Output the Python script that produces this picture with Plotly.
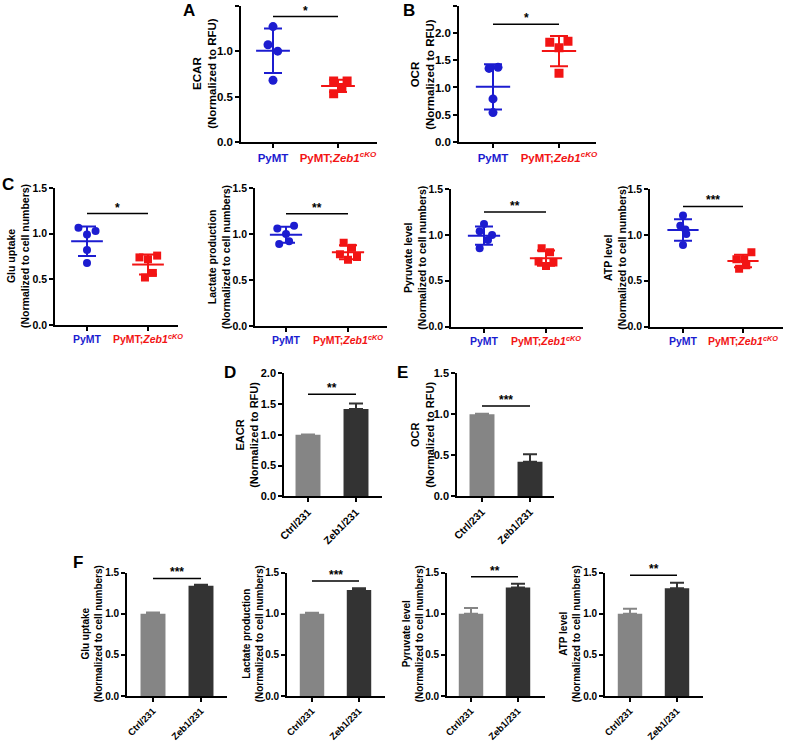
import numpy as np
import plotly.graph_objects as go

W, H = 786, 742
BLUE = "#1c1cd0"
RED = "#f21414"
GRAY = "#858585"
DARK = "#333333"
FONT = "Liberation Sans"

# ---------------- data ----------------
scatter_groups = ['<span style="color:%s">PyMT</span>' % BLUE,
                  '<span style="color:%s">PyMT;<i>Zeb1<sup>cKO</sup></i></span>' % RED]
bar_groups = ["Ctrl/231", "Zeb1/231"]

ecar_pymt = [1.27, 1.07, 1.00, 0.68]
ecar_ko = [0.67, 0.67, 0.60, 0.53]
ocr_pymt = [1.35, 1.37, 0.79, 0.54]
ocr_ko = [1.83, 1.85, 1.73, 1.26]
glu_pymt = [1.065, 1.03, 0.99, 0.82, 0.68]
glu_ko = [0.74, 0.76, 0.72, 0.57, 0.52]
lac_pymt = [1.06, 1.09, 1.00, 0.89, 0.92]
lac_ko = [0.905, 0.85, 0.78, 0.75, 0.72]
pyr_pymt = [1.12, 1.04, 1.00, 0.945, 0.855]
pyr_ko = [0.855, 0.81, 0.71, 0.70, 0.66]
atp_pymt = [1.21, 1.10, 1.06, 1.01, 0.89]
atp_ko = [0.81, 0.735, 0.735, 0.67, 0.63]

# horizontal scatter of dots within each group (category units)
ecar_jit_p = [0, -0.077, 0.072, 0]
ecar_jit_k = [-0.067, 0.14, 0.06, -0.067]
ocr_jit_p = [-0.06, 0.076, 0, 0]
ocr_jit_k = [-0.14, 0.136, 0, 0]
glu_jit_p = [-0.14, 0.14, 0, 0, 0]
glu_jit_k = [-0.14, 0.15, 0, 0.08, -0.05]
lac_jit_p = [-0.14, 0.13, 0, -0.11, 0.05]
lac_jit_k = [-0.07, 0.065, -0.13, 0.145, 0]
pyr_jit_p = [0, -0.07, 0.13, 0.065, -0.07]
pyr_jit_k = [-0.07, 0.065, -0.12, 0.12, 0]
atp_jit_p = [0, -0.045, 0.04, 0.055, 0]
atp_jit_k = [0.14, -0.11, 0.02, 0.055, -0.065]

# bar panels: means and SEM
eacr_bar = [1.0, 1.42]
eacr_err = [0.004, 0.09]
ocr_bar = [1.0, 0.42]
ocr_bar_err = [0.004, 0.09]
glu_bar = [1.0, 1.34]
glu_bar_err = [0.015, 0.012]
lac_bar = [1.0, 1.29]
lac_bar_err = [0.012, 0.02]
pyr_bar = [1.0, 1.32]
pyr_bar_err = [0.07, 0.045]
atp_bar = [1.0, 1.31]
atp_bar_err = [0.06, 0.068]

# significance bars
sig_heights = [1.38, 2.16, 1.22, 1.22, 1.25, 1.31, 1.66, 1.10, 1.43, 1.40, 1.45, 1.47]
sig_labels = ["*", "*", "*", "**", "**", "***", "**", "***", "***", "***", "**", "**"]

y_titles = ["ECAR", "OCR", "Glu uptake", "Lactate production", "Pyruvate level", "ATP level",
            "EACR", "OCR", "Glu uptake", "Lactate production", "Pyruvate level", "ATP level"]
y_subtitles = ["(Normalized to RFU)"] * 2 + ["(Normalized to cell numbers)"] * 4 + \
              ["(Normalized to RFU)"] * 2 + ["(Normalized to cell numbers)"] * 4
y_max = [1.5, 2.5, 1.5, 1.5, 1.5, 1.5, 2.0, 1.5, 1.5, 1.5, 1.5, 1.5]
panel_letters = ["A", "B", "C", "D", "E", "F"]

# ---------------- layout geometry (pixels) ----------------
# x0, x1, ytop, ybot, cat0_px, cat1_px, title_x, font, xtick_font
geo = [
    (241, 377, 5.7, 142, 273, 338, 205, 11.5, 11.5),
    (459, 596, 5.7, 142, 493, 559, 423, 11.5, 11.5),
    (55, 178, 188, 325, 87, 148, 17.5, 10.5, 10.5),
    (255, 387, 188, 326, 286, 348, 219, 10.5, 10.5),
    (451, 583, 189, 326.7, 484, 546, 415, 10.5, 10.5),
    (650, 783, 189, 326.7, 683, 743, 615, 10.5, 10.5),
    (284, 382, 373.3, 496.3, 308, 356, 247, 11, 10.5),
    (457, 554, 373.3, 496, 482, 530, 422, 11, 10.5),
    (127, 227, 572.7, 696, 153, 201, 92, 10, 9.5),
    (287, 385, 572.7, 696, 312, 359, 253, 10, 9.5),
    (447, 545, 572.7, 696, 471, 518, 413, 10, 9.5),
    (605, 703, 572.7, 696, 630, 677, 570, 10, 9.5),
]
letter_pos = [(189, 10), (409, 10), (8, 184), (230, 372), (403, 372), (78, 562)]

fig = go.Figure()

scatter_sets = [
    (ecar_pymt, ecar_ko, ecar_jit_p, ecar_jit_k),
    (ocr_pymt, ocr_ko, ocr_jit_p, ocr_jit_k),
    (glu_pymt, glu_ko, glu_jit_p, glu_jit_k),
    (lac_pymt, lac_ko, lac_jit_p, lac_jit_k),
    (pyr_pymt, pyr_ko, pyr_jit_p, pyr_jit_k),
    (atp_pymt, atp_ko, atp_jit_p, atp_jit_k),
]
bar_sets = [
    (eacr_bar, eacr_err), (ocr_bar, ocr_bar_err), (glu_bar, glu_bar_err),
    (lac_bar, lac_bar_err), (pyr_bar, pyr_bar_err), (atp_bar, atp_bar_err),
]


def ax(k):
    return ("x" if k == 1 else f"x{k}"), ("y" if k == 1 else f"y{k}")


for i, (p, q, jp, jq) in enumerate(scatter_sets):
    k = i + 1
    xa, ya = ax(k)
    msize = 9 if k <= 2 else 8
    for gi, (vals, jit, col, sym) in enumerate([(p, jp, BLUE, "circle"), (q, jq, RED, "square")]):
        m = float(np.mean(vals))
        sd = float(np.std(vals, ddof=1))
        fig.add_trace(go.Scatter(x=[gi + j for j in jit], y=vals, mode="markers",
                                 marker=dict(symbol=sym, size=msize, color=col, line=dict(width=0)),
                                 xaxis=xa, yaxis=ya, showlegend=False, hoverinfo="skip"))
        fig.add_trace(go.Scatter(x=[gi - 0.26, gi + 0.26], y=[m, m], mode="lines",
                                 line=dict(color=col, width=2),
                                 xaxis=xa, yaxis=ya, showlegend=False, hoverinfo="skip"))
        fig.add_trace(go.Scatter(x=[gi], y=[m], mode="markers", marker=dict(size=1, color=col),
                                 error_y=dict(type="data", array=[sd], color=col, thickness=2, width=9),
                                 xaxis=xa, yaxis=ya, showlegend=False, hoverinfo="skip"))

for i, (vals, err) in enumerate(bar_sets):
    k = i + 7
    xa, ya = ax(k)
    for gi, col in enumerate([GRAY, DARK]):
        fig.add_trace(go.Bar(x=[gi], y=[vals[gi]], width=0.52, marker=dict(color=col, line=dict(width=0)),
                             error_y=dict(type="data", symmetric=False, array=[err[gi]], arrayminus=[0],
                                          color=col, thickness=2, width=7),
                             xaxis=xa, yaxis=ya, showlegend=False, hoverinfo="skip"))

annotations = []
for i in range(12):
    k = i + 1
    xa, ya = ax(k)
    x0, x1, yt, yb, c0, c1, tx, fs, xfs = geo[i]
    s = c1 - c0
    fig.add_trace(go.Scatter(x=[0, 1], y=[sig_heights[i]] * 2, mode="lines",
                             line=dict(color="black", width=1.5),
                             xaxis=xa, yaxis=ya, showlegend=False, hoverinfo="skip"))
    annotations.append(dict(x=0.5, y=sig_heights[i], xref=xa, yref=ya, text=sig_labels[i],
                            showarrow=False, yanchor="middle", yshift=6,
                            font=dict(family=FONT, size=12, color="black", weight="bold")))
    annotations.append(dict(x=tx / W, y=1 - (yt + yb) / 2 / H, xref="paper", yref="paper",
                            text=f"{y_titles[i]}<br>{y_subtitles[i]}", textangle=-90,
                            showarrow=False, xanchor="center", yanchor="middle",
                            font=dict(family=FONT, size=fs, color="black", weight="bold")))
    xname = "xaxis" if k == 1 else f"xaxis{k}"
    yname = "yaxis" if k == 1 else f"yaxis{k}"
    common = dict(showline=True, linecolor="black", linewidth=1.6, ticks="outside",
                  ticklen=4, tickwidth=1.6, tickcolor="black", showgrid=False, zeroline=False,
                  fixedrange=True, automargin=False)
    xcfg = dict(common, anchor=ya, domain=[x0 / W, x1 / W],
                range=[(x0 - c0) / s, (x1 - c0) / s], tickvals=[0, 1],
                tickfont=dict(family=FONT, size=xfs, color="black", weight="bold"))
    if k <= 6:
        xcfg["ticktext"] = scatter_groups
    else:
        xcfg["ticktext"] = bar_groups
        xcfg["tickangle"] = -45
    ycfg = dict(common, anchor=xa, domain=[1 - yb / H, 1 - yt / H], range=[0, y_max[i]],
                tick0=0, dtick=0.5, tickformat=".1f",
                tickfont=dict(family=FONT, size=fs, color="black", weight="bold"))
    fig.update_layout({xname: xcfg, yname: ycfg})

for L, (lx, ly) in zip(panel_letters, letter_pos):
    annotations.append(dict(x=lx / W, y=1 - ly / H, xref="paper", yref="paper", text=L,
                            showarrow=False, xanchor="center", yanchor="middle",
                            font=dict(family=FONT, size=17, color="black", weight="bold")))

fig.update_layout(width=W, height=H, margin=dict(l=0, r=0, t=0, b=0),
                  plot_bgcolor="white", paper_bgcolor="white", barmode="overlay",
                  annotations=annotations, showlegend=False)

fig.write_html("out.html", config={"displayModeBar": False},
               post_script="document.body.style.margin='0';document.body.style.overflow='hidden';")
